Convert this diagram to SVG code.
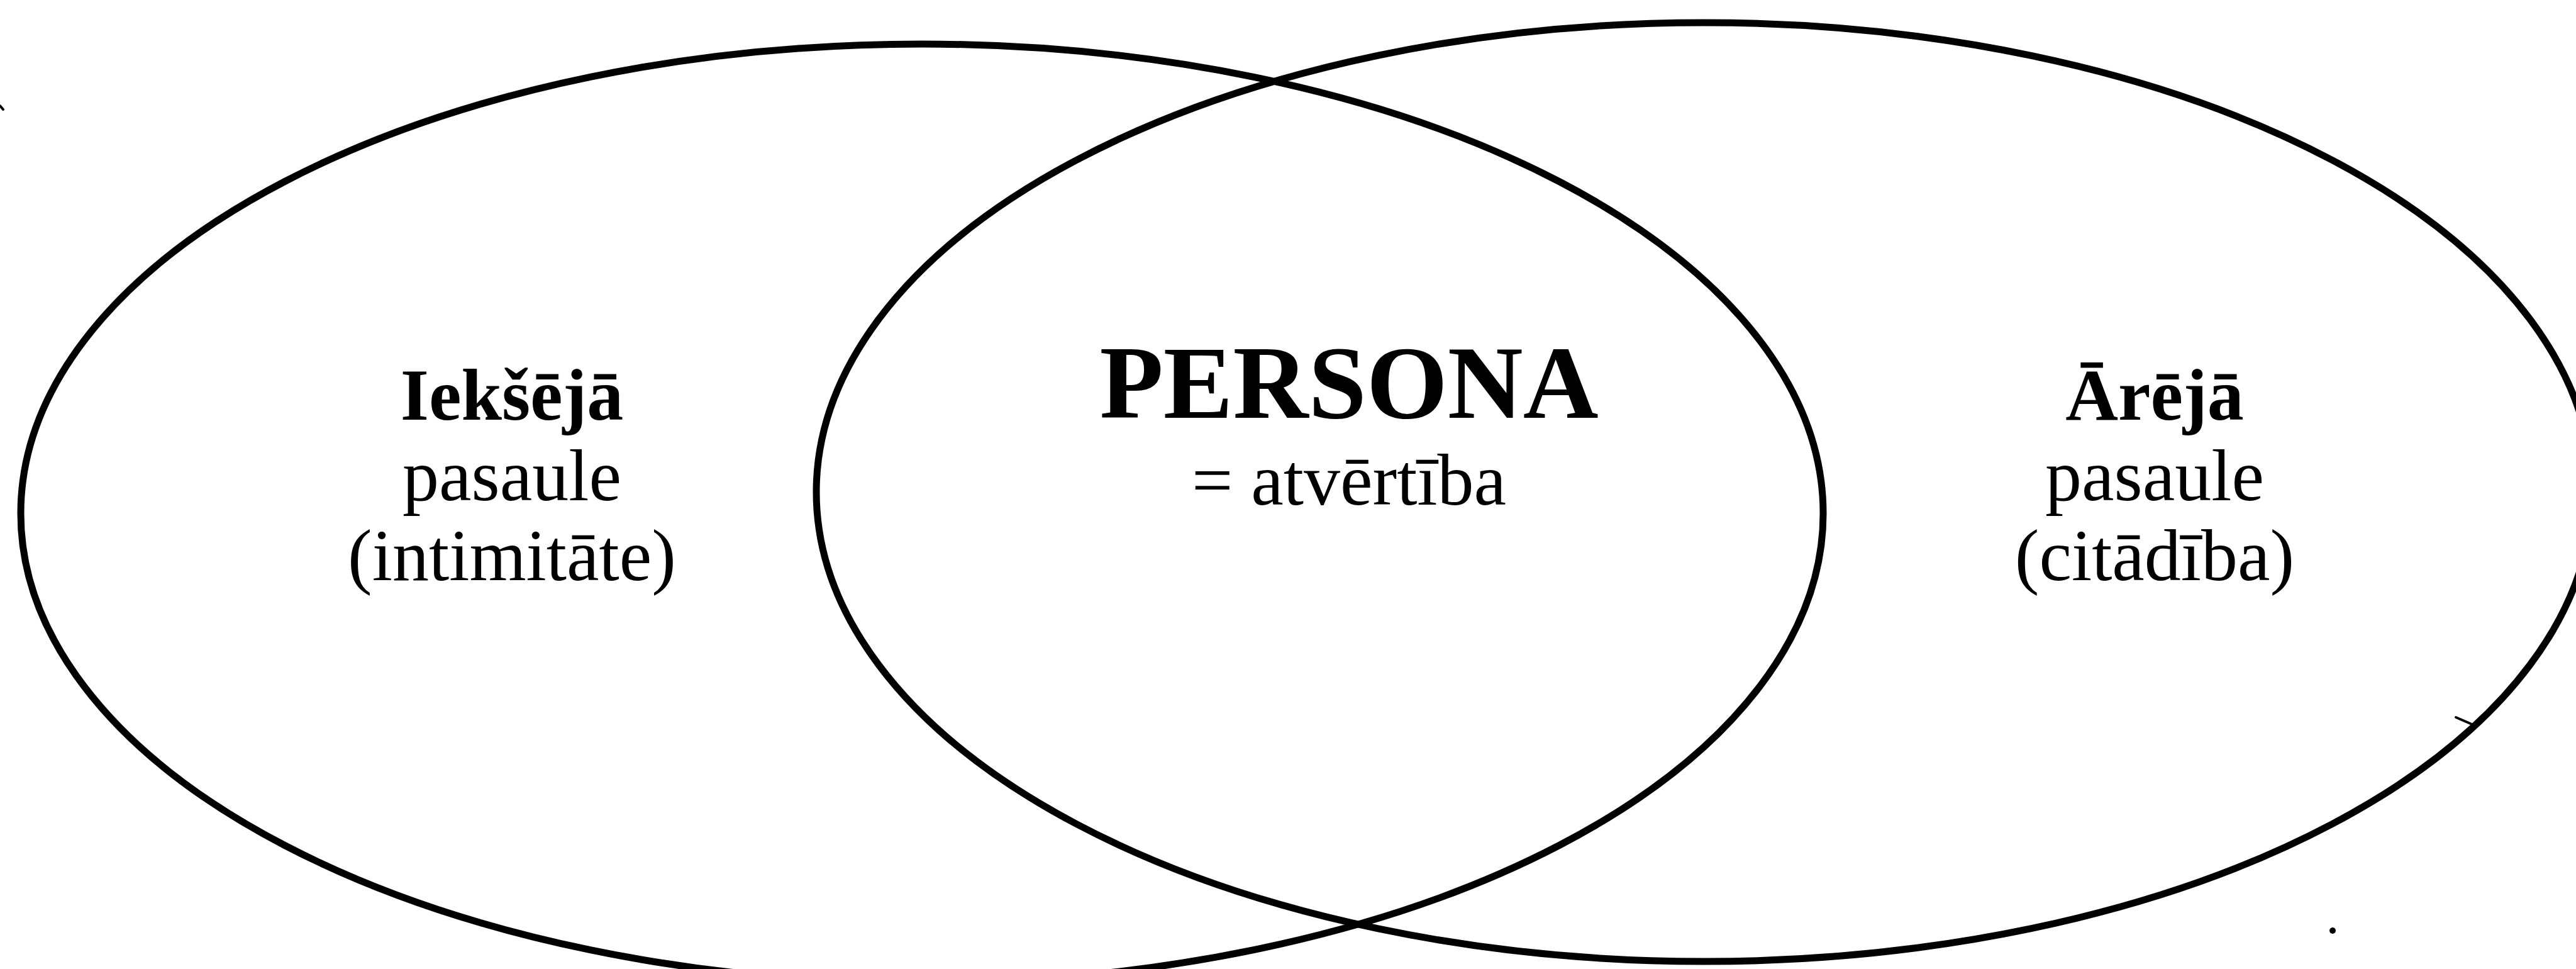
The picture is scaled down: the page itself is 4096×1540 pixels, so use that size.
<svg xmlns="http://www.w3.org/2000/svg" width="4096" height="1540" viewBox="0 0 4096 1540">
<style>
.ell{fill:none;stroke:#000;stroke-width:11}
.t{font-family:"Liberation Serif","DejaVu Serif",serif;fill:#000;text-anchor:middle}
.b{font-weight:bold}
.s{font-size:116px}
.big{font-size:166px;font-weight:bold}
.mark{fill:none;stroke:#000;stroke-width:4;stroke-linecap:round}
</style>
<rect width="4096" height="1540" fill="#fff"/>
<g id="inner-world">
<ellipse class="ell" cx="1466" cy="816" rx="1433" ry="746"/>
<text class="t s b" x="814" y="667">Iekšējā</text>
<text class="t s" x="814" y="795">pasaule</text>
<text class="t s" x="814" y="922">(intimitāte)</text>
</g>
<g id="outer-world">
<ellipse class="ell" cx="2710" cy="782" rx="1412" ry="746"/>
<text class="t s b" x="3426" y="667">Ārējā</text>
<text class="t s" x="3426" y="795">pasaule</text>
<text class="t s" x="3426" y="922">(citādība)</text>
</g>
<g id="persona">
<text class="t big" x="2145" y="664">PERSONA</text>
<text class="t s" x="2145" y="802">= atvērtība</text>
</g>
<g id="connectors"></g>
<g id="marks">
<path class="mark" d="M3905 1140 L3935 1153"/>
<circle cx="3709" cy="1479" r="5" fill="#000"/>
<path class="mark" d="M0 168 L5 174"/>
</g>
</svg>
